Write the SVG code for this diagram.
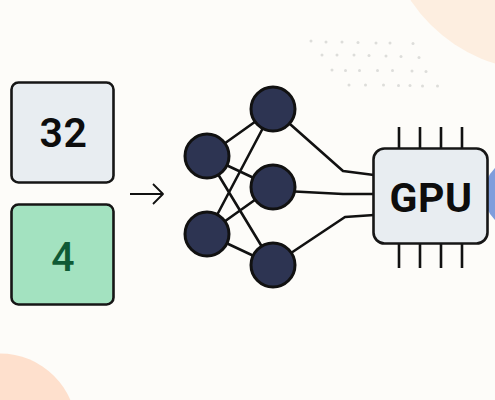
<svg xmlns="http://www.w3.org/2000/svg" width="495" height="400" viewBox="0 0 495 400">
<style>
.box{stroke:#161616;stroke-width:2.600}
.edge{fill:none;stroke:#111;stroke-width:2.600;stroke-linejoin:round}
.nn{fill:#2d3452;stroke:#111;stroke-width:3}
.dot{fill:#dddddA}
.t{font-family:"Roboto","Liberation Sans",sans-serif;text-anchor:middle}
</style>
<rect width="495" height="400" fill="#fdfcf9"/>
<circle cx="541" cy="-85.500" r="156" fill="#fdeee0"/>
<circle cx="0" cy="430" r="76.500" fill="#fee0cd"/>
<circle cx="520" cy="194" r="36" fill="#7f9ddc"/>
<g id="dots">
<circle class="dot" cx="311" cy="41" r="1.500"/><circle class="dot" cx="326" cy="42" r="1.500"/><circle class="dot" cx="342" cy="42" r="1.500"/><circle class="dot" cx="358" cy="42.500" r="1.500"/><circle class="dot" cx="376" cy="43" r="1.500"/><circle class="dot" cx="390" cy="43" r="1.500"/><circle class="dot" cx="413" cy="43.500" r="1.500"/>
<circle class="dot" cx="322" cy="55" r="1.500"/><circle class="dot" cx="337" cy="55" r="1.500"/><circle class="dot" cx="354" cy="55" r="1.500"/><circle class="dot" cx="369" cy="55.500" r="1.500"/><circle class="dot" cx="386" cy="56" r="1.500"/><circle class="dot" cx="401" cy="56.500" r="1.500"/><circle class="dot" cx="419" cy="57.500" r="1.500"/>
<circle class="dot" cx="332" cy="70" r="1.500"/><circle class="dot" cx="345.500" cy="70.500" r="1.500"/><circle class="dot" cx="359.500" cy="70.500" r="1.500"/><circle class="dot" cx="377.500" cy="70.500" r="1.500"/><circle class="dot" cx="392.500" cy="70.500" r="1.500"/><circle class="dot" cx="412" cy="71" r="1.500"/><circle class="dot" cx="426" cy="71.500" r="1.500"/>
<circle class="dot" cx="349" cy="85" r="1.500"/><circle class="dot" cx="365.500" cy="85" r="1.500"/><circle class="dot" cx="383.500" cy="85" r="1.500"/><circle class="dot" cx="398.500" cy="85.500" r="1.500"/><circle class="dot" cx="410" cy="85.500" r="1.500"/><circle class="dot" cx="422.500" cy="86" r="1.500"/><circle class="dot" cx="437.500" cy="86" r="1.500"/>
</g>
<g id="connectors">
<path class="edge" d="M207 156L273 109M207 156L273 187M207 156L273 265M207 234L273 109M207 234L273 187M207 234L273 265"/>
<path class="edge" d="M273 109L343 171L374 175M285 191L343 194L374 194M273 265L345 217L374 215"/>
<path class="edge" d="M130 194H163M153 184L163 194L153 204" style="stroke-width:1.800"/>
</g>
<g id="box-32"><rect class="box" x="11.500" y="82.500" width="102" height="100" rx="7" fill="#e8edf1"/><text class="t" x="63.500" y="147" font-size="41" font-weight="600" letter-spacing="0.500" fill="#0d0d0d">32</text></g>
<g id="box-4"><rect class="box" x="11.500" y="204.500" width="102" height="100" rx="7" fill="#a3e2c0"/><text class="t" x="63" y="271" font-size="41" font-weight="500" fill="#0f5a35">4</text></g>
<g id="n1"><circle class="nn" cx="207" cy="156" r="22"/></g>
<g id="n2"><circle class="nn" cx="207" cy="234" r="22"/></g>
<g id="n3"><circle class="nn" cx="273" cy="109" r="22"/></g>
<g id="n4"><circle class="nn" cx="273" cy="187" r="22"/></g>
<g id="n5"><circle class="nn" cx="273" cy="265" r="22"/></g>
<g id="gpu">
<path class="edge" d="M399 127V148M420 127V148M441 127V148M462 127V148M399 244V268M420 244V268M441 244V268M462 244V268"/>
<rect class="box" x="373.500" y="148.500" width="114" height="95" rx="11" fill="#e8edf1"/>
<text class="t" x="431" y="212" font-size="41" font-weight="700" letter-spacing="0.500" fill="#0d0d0d">GPU</text>
</g>
</svg>
